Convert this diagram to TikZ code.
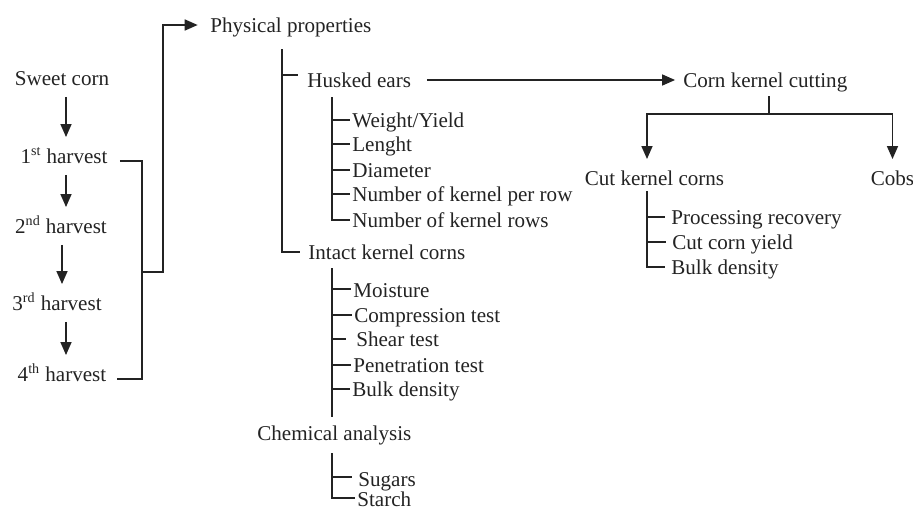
\documentclass[tikz,border=0pt]{standalone}
\usepackage{fontspec}
\setmainfont{Liberation Serif}
\usetikzlibrary{arrows.meta}
\definecolor{ink}{RGB}{35,35,35}

\begin{document}
\begin{tikzpicture}[x=0.02cm, y=-0.02cm,
      lbl/.style={inner sep=0pt, text height=8.2pt, text depth=0pt, anchor=west,
                  text=ink, font=\fontsize{12}{14}\selectfont},
      stage/.style={lbl, anchor=center, inner ysep=6.5pt},
      ln/.style={draw=ink, line width=0.9pt},
      arr/.style={ln, -{Triangle[length=2.6mm, width=2.2mm]}}
    ]
    \useasboundingbox (0,0) rectangle (913,511);

    % harvests
    \node[stage] (sweet) at (62,78) {Sweet corn};
    \node[stage] (h1) at (64,156) {1\textsuperscript{st} harvest};
    \node[stage] (h2) at (61,226) {2\textsuperscript{nd} harvest};
    \node[stage] (h3) at (57,303) {3\textsuperscript{rd} harvest};
    \node[stage] (h4) at (62,374) {4\textsuperscript{th} harvest};

    \coordinate (col) at (66,0);
    \coordinate (col3) at (62,0);
    \draw[arr] (sweet.south -| col) -- (h1.north -| col);
    \draw[arr] (h1.south -| col) -- (h2.north -| col);
    \draw[arr] (h2.south -| col3) -- (h3.north -| col3);
    \draw[arr] (h3.south -| col) -- (h4.north -| col);

    \coordinate (hj) at (142,272);
    \coordinate (hup) at (163,272);
    \draw[ln] ([shift={(12,-2)}]h1.base east) -| (hj) |- ([shift={(10,-2)}]h4.base east);

    % physical properties
    \node[lbl] (phys) at (210,25) {Physical properties};
    \draw[arr, shorten >=7pt] (hj) -- (hup) |- (phys);

    \node[lbl] (husk) at (307,80) {Husked ears};
    \node[lbl] (intact) at (308,252) {Intact kernel corns};
    \coordinate (pt) at (282,49);
    \draw[ln] (pt) |- ([shift={(-9,-5)}]husk.west);
    \draw[ln] (pt) |- ([shift={(-8,0)}]intact.west);

    \node[lbl] (w1) at (352,120) {Weight/Yield};
    \node[lbl] (w2) at (352,144) {Lenght};
    \node[lbl] (w3) at (352,170) {Diameter};
    \node[lbl] (w4) at (352,194) {Number of kernel per row};
    \node[lbl] (w5) at (352,220) {Number of kernel rows};
    \coordinate (ht) at (332,97);
    \draw[ln] (ht) |- ([shift={(-2,0)}]w1.west);
    \draw[ln] (ht) |- ([shift={(-2,0)}]w2.west);
    \draw[ln] (ht) |- ([shift={(-2,0)}]w3.west);
    \draw[ln] (ht) |- ([shift={(-2,0)}]w4.west);
    \draw[ln] (ht) |- ([shift={(-2,0)}]w5.west);

    \node[lbl] (m1) at (353,290) {Moisture};
    \node[lbl] (m2) at (354,315) {Compression test};
    \node[lbl] (m3) at (356,339) {Shear test};
    \node[lbl] (m4) at (353,365) {Penetration test};
    \node[lbl] (m5) at (352,389) {Bulk density};
    \coordinate (it) at (332,268);
    \coordinate (ib) at (332,417);
    \draw[ln] (it) -- (ib);
    \draw[ln] (it) |- ([shift={(-2,-1)}]m1.west);
    \draw[ln] (it) |- ([shift={(-2,0)}]m2.west);
    \draw[ln] (it) |- ([shift={(-10,0)}]m3.west);
    \draw[ln] (it) |- ([shift={(-2,0)}]m4.west);
    \draw[ln] (it) |- ([shift={(-2,0)}]m5.west);

    % chemical analysis
    \node[lbl] (chem) at (257,433) {Chemical analysis};
    \node[lbl] (sug) at (358,479) {Sugars};
    \node[lbl] (sta) at (357,499) {Starch};
    \coordinate (ct) at (332,453);
    \draw[ln] (ct) |- ([shift={(-6,-2)}]sug.west);
    \draw[ln] (ct) |- ([shift={(-2,-1)}]sta.west);

    % kernel cutting
    \node[lbl] (cut) at (683,80) {Corn kernel cutting};
    \draw[arr, shorten <=8.8pt, shorten >=4.5pt] (husk) -- (cut);

    \node[stage] (ckc) at (654.5,178) {Cut kernel corns};
    \node[stage] (cobs) at (892.5,178) {Cobs};
    \coordinate (cs) at (769,96);
    \coordinate (cj) at (769,114);
    \coordinate (cl) at (647,114);
    \draw[ln] (cs) -- (cj);
    \draw[arr] (cj) -| (cl |- ckc.north);
    \draw[arr] (cj) -| (cobs);

    \node[lbl] (pr) at (671,217) {Processing recovery};
    \node[lbl] (cy) at (672,242) {Cut corn yield};
    \node[lbl] (bd) at (671,267) {Bulk density};
    \coordinate (kt) at (647,191);
    \draw[ln] (kt) |- ([shift={(-6,0)}]pr.west);
    \draw[ln] (kt) |- ([shift={(-6,0)}]cy.west);
    \draw[ln] (kt) |- ([shift={(-6,0)}]bd.west);
  \end{tikzpicture}
\end{document}
